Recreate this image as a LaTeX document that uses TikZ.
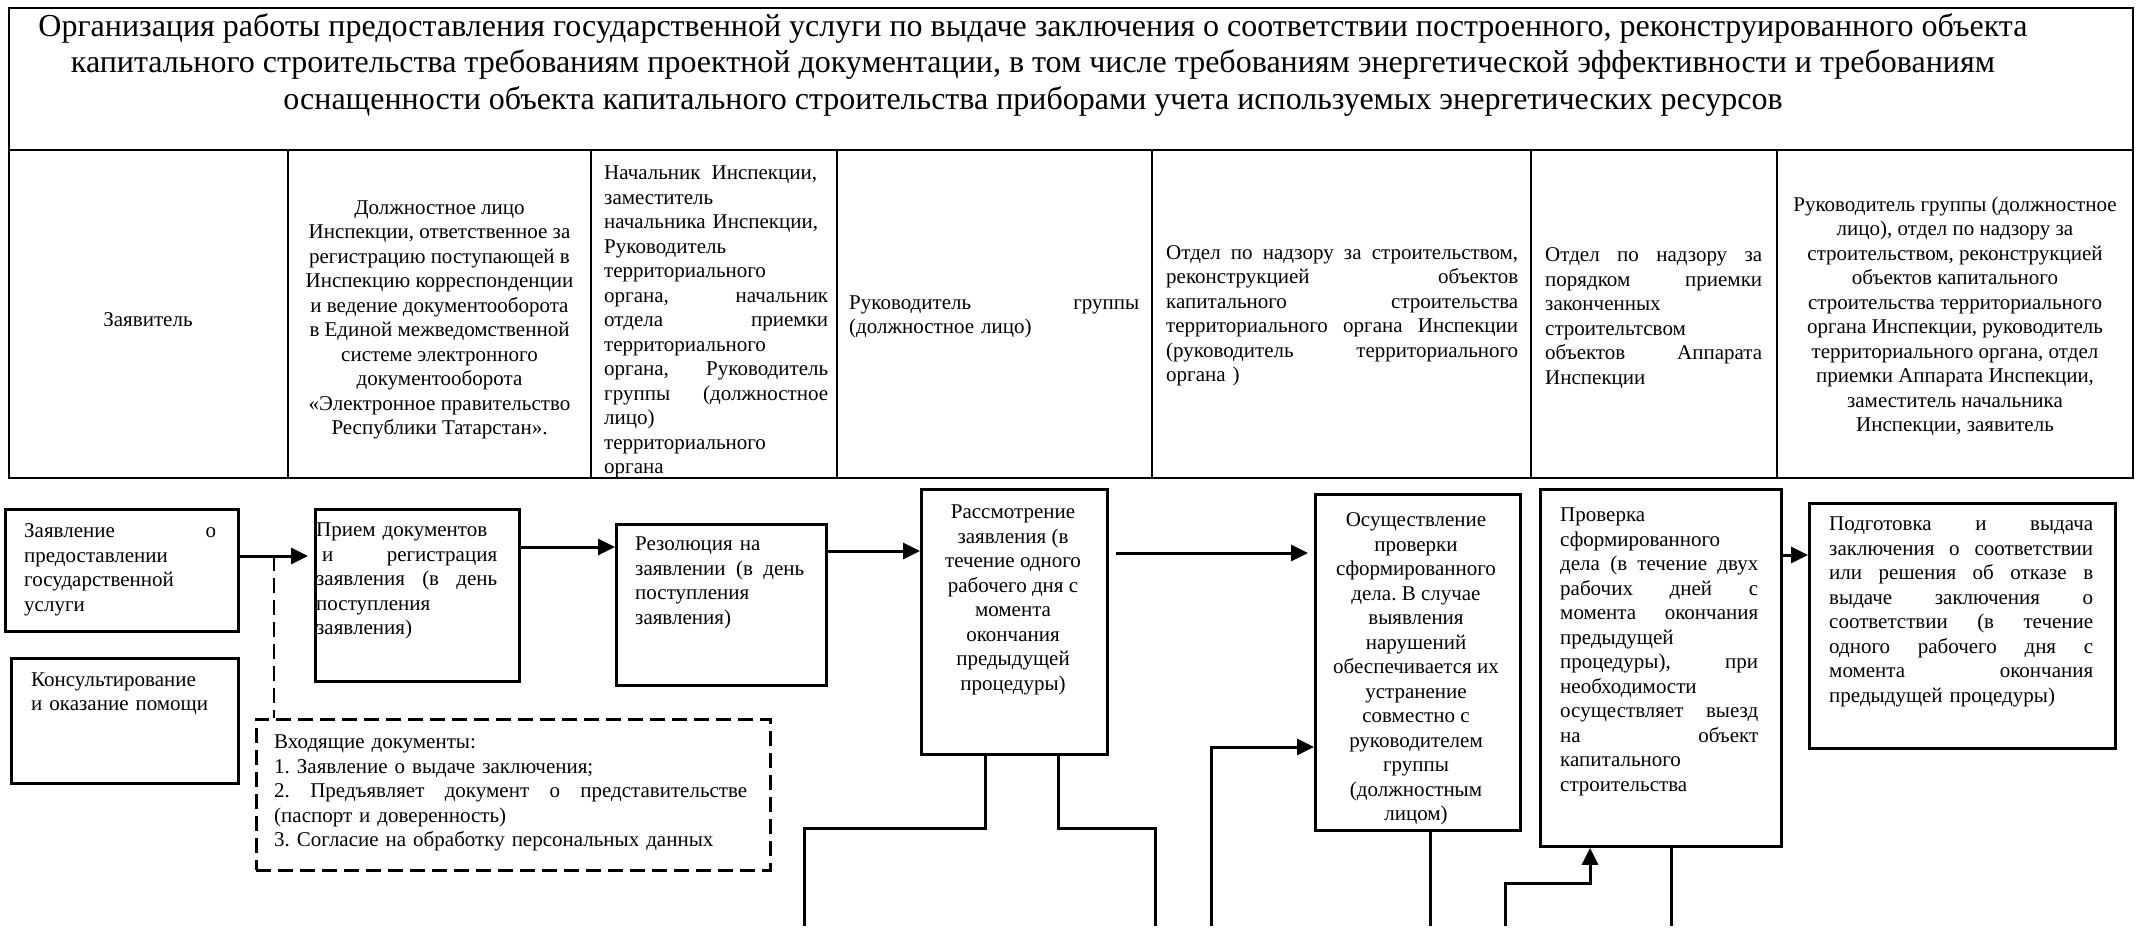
\documentclass[tikz,border=0pt]{standalone}
\usepackage{fontspec}
\setmainfont{Liberation Serif}
\usetikzlibrary{arrows.meta}
\newcommand{\fsbody}{\fontsize{21}{24.5}\selectfont}
\newcommand{\fstitle}{\fontsize{32}{36.5}\selectfont}
\frenchspacing
\begin{document}
\begin{tikzpicture}[x=1pt,y=-1pt,
  box/.style={draw,line width=2.8pt,inner sep=0pt,anchor=north west},
  dbox/.style={draw,line width=2.8pt,dash pattern=on 15pt off 7pt,inner sep=0pt,anchor=north west},
  txt/.style={inner sep=0pt,font=\fsbody,align=left,anchor=west},
  ctxt/.style={inner sep=0pt,font=\fsbody,align=center},
  conn/.style={line width=3pt},
  arr/.style={line width=3pt,-{Triangle[length=17pt,width=16pt]}},
  dsh/.style={line width=2.8pt,dash pattern=on 15pt off 7pt},
  grid/.style={line width=2.2pt}]
\useasboundingbox (0,0) rectangle (2138,930);
\fill[white] (0,0) rectangle (2138,930);

% ---------- header table ----------
\draw[grid] (9,8) rectangle (2133,478);
\draw[grid] (9,150) -- (2133,150);
\foreach \x in {288,591,837,1152,1531,1777} \draw[grid] (\x,150) -- (\x,478);

\node[inner sep=0pt,font=\fstitle,align=center] (title) at (1033,64.5)
 {Организация работы предоставления государственной услуги по выдаче заключения о соответствии построенного, реконструированного объекта\\
  капитального строительства требованиям проектной документации, в том числе требованиям энергетической эффективности и требованиям\\
  оснащенности объекта капитального строительства приборами учета используемых энергетических ресурсов};

\node[ctxt] (r1) at (148,320) {Заявитель};
\node[ctxt] (r2) at (439.5,320) {Должностное лицо\\Инспекции, ответственное за\\регистрацию поступающей в\\Инспекцию корреспонденции\\и ведение документооборота\\в Единой межведомственной\\системе электронного\\документооборота\\«Электронное правительство\\Республики Татарстан».};
\node[txt,text width=224pt] (r3) at (604,322) {Начальник\hspace{11pt}Инспекции,\\заместитель\\начальника Инспекции,\\Руководитель\\территориального\\органа,\hfill начальник\\отдела\hfill приемки\\территориального\\органа,\hfill Руководитель\\группы\hfill (должностное\\лицо)\\территориального\\органа};
\node[txt,text width=290pt] (r4) at (849,317) {Руководитель\hfill группы\\(должностное лицо)};
\node[txt,text width=352pt] (r5) at (1166,316) {Отдел\hfill по\hfill надзору\hfill за\hfill строительством,\\реконструкцией\hfill объектов\\капитального\hfill строительства\\территориального\hfill органа\hfill Инспекции\\(руководитель\hfill территориального\\органа )};
\node[txt,text width=217pt] (r6) at (1545,318) {Отдел\hfill по\hfill надзору\hfill за\\порядком\hfill приемки\\законченных\\строительтсвом\\объектов\hfill Аппарата\\Инспекции};
\node[ctxt] (r7) at (1955,316) {Руководитель группы (должностное\\лицо), отдел по надзору за\\строительством, реконструкцией\\объектов капитального\\строительства территориального\\органа Инспекции, руководитель\\территориального органа, отдел\\приемки Аппарата Инспекции,\\заместитель начальника\\Инспекции, заявитель};

% ---------- flow boxes ----------
\node[box,minimum width=233pt,minimum height=122pt] (b1) at (4,508) {};
\node[txt,text width=192pt] (t1) at (24,570) {Заявление\hfill о\\предоставлении\\государственной\\услуги};

\node[box,minimum width=227pt,minimum height=125pt] (b2) at (10,657) {};
\node[txt,text width=190pt] (t2) at (31,694) {Консультирование\\и оказание помощи};

\node[box,minimum width=204pt,minimum height=172pt] (b3) at (314,508) {};
\node[txt,text width=181pt] (t3) at (316,581) {Прием документов\\\hspace*{6pt}и\hfill регистрация\\заявления\hfill (в\hfill день\\поступления\\заявления)};

\node[box,minimum width=210pt,minimum height=161pt] (b4) at (615,523) {};
\node[txt,text width=169pt] (t4) at (635,583) {Резолюция на\\заявлении\hfill (в\hfill день\\поступления\\заявления)};

\node[box,minimum width=186pt,minimum height=265pt] (b5) at (920,488) {};
\node[ctxt] (t5) at (1013,600) {Рассмотрение\\заявления (в\\течение одного\\рабочего дня с\\момента\\окончания\\предыдущей\\процедуры)};

\node[box,minimum width=205pt,minimum height=336pt] (b6) at (1314,493) {};
\node[ctxt] (t6) at (1416,669) {Осуществление\\проверки\\сформированного\\дела. В случае\\выявления\\нарушений\\обеспечивается их\\устранение\\совместно с\\руководителем\\группы\\(должностным\\лицом)};

\node[box,minimum width=241pt,minimum height=357pt] (b7) at (1539,488) {};
\node[txt,text width=198pt] (t7) at (1560,652) {Проверка\\сформированного\\дела\hfill (в\hfill течение\hfill двух\\рабочих\hfill дней\hfill с\\момента\hfill окончания\\предыдущей\\процедуры),\hfill при\\необходимости\\осуществляет\hfill выезд\\на\hfill объект\\капитального\\строительства};

\node[box,minimum width=306pt,minimum height=245pt] (b8) at (1808,502) {};
\node[txt,text width=264pt] (t8) at (1829,612) {Подготовка\hfill и\hfill выдача\\заключения\hfill о\hfill соответствии\\или\hfill решения\hfill об\hfill отказе\hfill в\\выдаче\hfill заключения\hfill о\\соответствии\hfill (в\hfill течение\\одного\hfill рабочего\hfill дня\hfill с\\момента\hfill окончания\\предыдущей процедуры)};

\node[dbox,minimum width=514pt,minimum height=151pt] (d) at (255,718) {};
\node[txt,text width=473pt] (td) at (274,793) {Входящие документы:\\1. Заявление о выдаче заключения;\\2.\hfill Предъявляет\hfill документ\hfill о\hfill представительстве\\(паспорт и доверенность)\\3. Согласие на обработку персональных данных};

% ---------- connectors ----------
\coordinate (ya1) at (0,556);
\coordinate (ya2) at (0,547);
\coordinate (ya3) at (0,551);
\coordinate (ya5) at (0,555);
\coordinate (dj) at (274,556);
\coordinate (a4s) at (1116,553);

\draw[arr,shorten >=6pt] (b1.east |- ya1) -- (b3.west |- ya1);
\draw[dsh] (dj) -- (dj |- d.north);
\draw[arr] (b3.east |- ya2) -- (b4.west |- ya2);
\draw[arr] (b4.east |- ya3) -- (b5.west |- ya3);
\draw[arr,shorten >=6pt] (a4s) -- (b6.west |- a4s);
\draw[arr] (b7.east |- ya5) -- (b8.west |- ya5);

\coordinate (l1a) at (985,828);
\coordinate (l1e) at (804,926);
\draw[conn] (b5.south -| l1a) -- (l1a) -| (l1e);
\coordinate (l2a) at (1058,828);
\coordinate (l2e) at (1155,926);
\draw[conn] (b5.south -| l2a) -- (l2a) -| (l2e);
\coordinate (l3s) at (1211,926);
\coordinate (l3y) at (0,747);
\draw[arr] (l3s) |- (b6.west |- l3y);
\coordinate (l4e) at (1430,926);
\draw[conn] (b6.south -| l4e) -- (l4e);
\coordinate (l5s) at (1505,926);
\coordinate (l5a) at (1590,883);
\draw[arr] (l5s) |- (l5a) -- (b7.south -| l5a);
\coordinate (l6e) at (1671,926);
\draw[conn] (b7.south -| l6e) -- (l6e);
\end{tikzpicture}
\end{document}
